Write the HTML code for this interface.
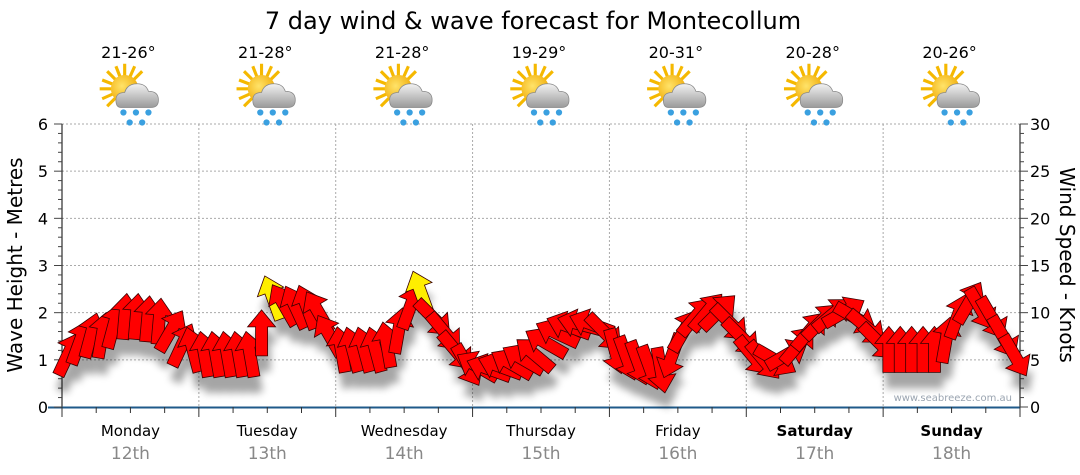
<!DOCTYPE html>
<html><head><meta charset="utf-8"><style>
body{margin:0;background:#fff;}
svg{display:block;font-family:"DejaVu Sans","Liberation Sans",sans-serif;}
</style></head><body>
<svg id="c" width="1080" height="475">
<defs>
<filter id="sh" x="-50%" y="-50%" width="200%" height="200%"><feGaussianBlur stdDeviation="4"/></filter>
<radialGradient id="sun" cx="0.4" cy="0.4" r="0.7"><stop offset="0" stop-color="#ffe36a"/><stop offset="1" stop-color="#f0a800"/></radialGradient>
<linearGradient id="cl" x1="0" y1="0" x2="0" y2="1"><stop offset="0" stop-color="#f2f2f2"/><stop offset="1" stop-color="#9a9a9a"/></linearGradient>
<g id="icon" transform="scale(1.25)">
<g stroke="#f5b800" stroke-width="2.5">
<line x1="-3" y1="-5" x2="-3" y2="-25"/><line x1="-3" y1="-5" x2="-23" y2="-5"/>
<line x1="-3" y1="-5" x2="-17" y2="-19"/><line x1="-3" y1="-5" x2="11" y2="-19"/>
<line x1="-3" y1="-5" x2="-17" y2="9"/><line x1="-3" y1="-5" x2="-10" y2="-23"/>
<line x1="-3" y1="-5" x2="5" y2="-23"/><line x1="-3" y1="-5" x2="-21" y2="-12"/><line x1="-3" y1="-5" x2="-21" y2="3"/>
</g>
<circle cx="-3" cy="-5" r="11" fill="url(#sun)"/>
<path d="M-6,10 Q-10,10 -10,4 Q-10,-2 -3,-2 Q-1,-9 7,-9 Q14,-9 16,-3 Q24,-3 24,4 Q24,10 18,10 Z" fill="url(#cl)" stroke="#888" stroke-width="0.6"/>
<g fill="#3aa0e0"><circle cx="-4" cy="14" r="2.5"/><circle cx="6" cy="14" r="2.5"/><circle cx="16" cy="14" r="2.5"/><circle cx="1" cy="22" r="2.5"/><circle cx="11" cy="22" r="2.5"/></g>
</g>
</defs>
<text x="533" y="29" font-size="24" text-anchor="middle" fill="#000">7 day wind &amp; wave forecast for Montecollum</text>
<g id="grid"></g>
<g id="axes"></g>
<g id="shadows" filter="url(#sh)" opacity="0.35"></g>
<g id="arrows"></g>
<text x="1012" y="401" font-size="10" text-anchor="end" fill="#9aa4b0">www.seabreeze.com.au</text>
<text transform="translate(22,265) rotate(-90)" font-size="20" text-anchor="middle">Wave Height - Metres</text>
<text transform="translate(1060,265) rotate(90)" font-size="20" text-anchor="middle">Wind Speed - Knots</text>
</svg>
<script>
const days=["Monday","Tuesday","Wednesday","Thursday","Friday","Saturday","Sunday"];
const dates=["12th","13th","14th","15th","16th","17th","18th"];
const temps=["21-26°","21-28°","21-28°","19-29°","20-31°","20-28°","20-26°"];
const leftTicks=[0,1,2,3,4,5,6];
const rightTicks=[0,5,10,15,20,25,30];
const waveHeight=[
1.1,1.35,1.5,1.5,1.7,1.9,1.9,1.85,1.8,1.6,1.3,1.2,
1.1,1.1,1.1,1.1,1.1,1.55,2.3,2.15,2.1,2.1,2.0,1.5,
1.2,1.2,1.2,1.2,1.3,1.6,2.1,2.4,1.9,1.6,1.2,0.9,
0.85,0.8,0.85,0.9,1.0,1.1,1.35,1.55,1.7,1.75,1.75,1.6,
1.2,1.05,0.95,0.85,0.8,1.1,1.6,1.9,2.0,2.0,1.8,1.5,
1.1,1.0,1.0,1.1,1.3,1.6,1.8,1.95,2.0,1.9,1.7,1.4,
1.2,1.2,1.2,1.2,1.2,1.4,1.9,2.2,2.1,1.9,1.5,1.1];
const windDir=[
25,20,15,10,15,5,5,5,5,30,25,345,
350,350,350,350,350,0,340,330,335,340,330,330,
350,345,345,345,350,10,20,340,135,140,140,150,
300,290,290,300,300,310,300,295,290,285,290,135,
165,160,160,160,170,200,30,40,40,45,135,135,
140,140,120,60,40,40,45,50,60,120,130,135,
0,0,0,0,0,10,20,30,150,150,150,150];
const highlight=[18,31];
const NS="http://www.w3.org/2000/svg";
const L=62,R=1020,T=124,B=407;
const n=waveHeight.length;
const xS=i=>L+(i+0.5)*(R-L)/n;
const yS=v=>B-v*(B-T)/6;
const dayW=(R-L)/7;
function mk(tag,attrs,parent,txt){const e=document.createElementNS(NS,tag);for(const k in attrs)e.setAttribute(k,attrs[k]);if(txt!==undefined)e.textContent=txt;document.getElementById(parent)?document.getElementById(parent).appendChild(e):parent.appendChild(e);return e;}
const svg=document.getElementById('c');
for(let v=1;v<=6;v++){const g=mk('line',{x1:L,x2:R,y1:yS(v),y2:yS(v),stroke:'#aaa','stroke-dasharray':'2,2'},'grid');}
for(let d=1;d<7;d++){const x=L+d*dayW;const g=mk('line',{x1:x,x2:x,y1:T,y2:B,stroke:'#aaa','stroke-dasharray':'2,2'},'grid');}
mk('line',{x1:L,x2:L,y1:T,y2:B,stroke:'#000'},'axes');
mk('line',{x1:R,x2:R,y1:T,y2:B,stroke:'#000'},'axes');
const xa=mk('line',{x1:L-14,x2:R,y1:B+0.5,y2:B+0.5,stroke:'#1f5a8a','stroke-width':2},'axes');

for(let k=0;k<=30;k++){const y=T+k*(B-T)/30;const big=k%5==0;
mk('line',{x1:L-(big?8:4),x2:L,y1:y,y2:y,stroke:'#444'},'axes');
mk('line',{x1:R,x2:R+(big?8:4),y1:y,y2:y,stroke:'#444'},'axes');}
leftTicks.forEach(v=>{const t=mk('text',{x:48,y:yS(v)+6,'font-size':16,'text-anchor':'end',fill:'#000'},'axes',v);});
rightTicks.forEach(v=>{const t=mk('text',{x:1030,y:B-v*(B-T)/30+6,'font-size':16,fill:'#000'},'axes',v);});
for(let k=0;k<=28;k++){const x=L+k*dayW/4;const big=k%4==0;mk('line',{x1:x,x2:x,y1:B,y2:B+(big?10:6),stroke:'#333'},'axes');}
days.forEach((d,i)=>{const cx=L+(i+0.5)*dayW;const we=i>=5;
const t=mk('text',{x:cx,y:436,'font-size':15,'text-anchor':'middle','font-weight':we?'bold':'normal'},'axes',d);
const t2=mk('text',{x:cx,y:459,'font-size':17,'text-anchor':'middle',fill:'#888'},'axes',dates[i]);
const t3=mk('text',{x:cx-2,y:58,'font-size':16,'text-anchor':'middle'},svg,temps[i]);
const ic=mk('use',{href:'#icon',x:cx-2,y:95},svg);});
const P="M0,-24 L14,-7 L6,-7 L6,22 L-6,22 L-6,-7 L-14,-7 Z";
for(let i=0;i<n;i++){const x=xS(i),y=yS(waveHeight[i]);const tr=`translate(${x},${y}) rotate(${windDir[i]})`;
mk('path',{d:P,transform:`translate(${x+3},${y+16}) rotate(${windDir[i]})`,fill:'#000'},'shadows');
const a=mk('path',{d:P,transform:tr,fill:highlight.includes(i)?'#ffee00':'#ff0000',stroke:'#3a0000','stroke-width':0.8},'arrows');

}
</script>
</body></html>
